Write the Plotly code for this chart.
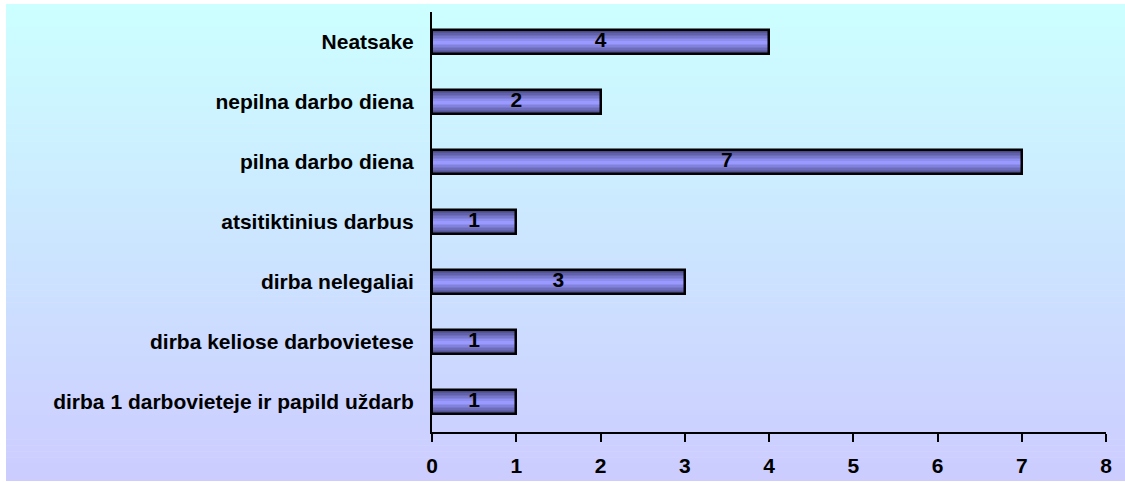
import plotly.graph_objects as go

categories = [
    "dirba 1 darbovieteje ir papild uždarb",
    "dirba keliose darbovietese",
    "dirba nelegaliai",
    "atsitiktinius darbus",
    "pilna darbo diena",
    "nepilna darbo diena",
    "Neatsake",
]
values = [1, 1, 3, 1, 7, 2, 4]
x_ticks = [0, 1, 2, 3, 4, 5, 6, 7, 8]

FONT = "Liberation Sans, Arial, sans-serif"
FS = 21

def lerp(c1, c2, t):
    return "#%02x%02x%02x" % tuple(int(round(a + (b - a) * t)) for a, b in zip(c1, c2))

fig = go.Figure()

# layered bars to mimic a vertical gradient inside each bar
dark = (0x4a, 0x4a, 0x88)
light = (0x99, 0x99, 0xff)
n_layers = 8
full_w = 0.4
for i in range(n_layers):
    t = i / (n_layers - 1)
    w = full_w * (1 - i / n_layers)
    fig.add_trace(go.Bar(
        x=values, y=categories, orientation="h", width=w,
        marker=dict(color=lerp(dark, light, t), line=dict(width=0)),
        hoverinfo="skip", showlegend=False,
    ))

# outline on top
fig.add_trace(go.Bar(
    x=values, y=categories, orientation="h", width=full_w,
    marker=dict(color="rgba(0,0,0,0)", line=dict(color="black", width=2.5)),
    showlegend=False,
))

# value labels centered in bars
fig.add_trace(go.Scatter(
    x=[v / 2 for v in values], y=categories, mode="text",
    text=[str(v) for v in values],
    textfont=dict(family=FONT, size=FS, color="black", weight="bold"),
    textposition="middle center", hoverinfo="skip", showlegend=False,
))

# gradient background via stacked strips (paper coords)
L, R, T, B = 432, 1106, 12, 432
W, H = R - L, B - T
def px_x(p):
    return (p - L) / W
def px_y(p):
    return (B - p) / H
top_c = (0xcc, 0xff, 0xff)
bot_c = (0xcc, 0xcc, 0xff)
y_top, y_bot = 4, 481
n_strips = 80
shapes = []
for i in range(n_strips):
    a = y_top + (y_bot - y_top) * i / n_strips
    b = y_top + (y_bot - y_top) * (i + 1) / n_strips + 0.6
    shapes.append(dict(
        type="rect", xref="paper", yref="paper", layer="below",
        x0=px_x(6), x1=px_x(1125), y0=px_y(min(b, y_bot)), y1=px_y(a),
        fillcolor=lerp(top_c, bot_c, i / (n_strips - 1)), line=dict(width=0),
    ))

fig.update_layout(
    width=1125, height=482,
    margin=dict(l=L, r=1125 - R, t=T, b=482 - B, pad=0, autoexpand=False),
    paper_bgcolor="white", plot_bgcolor="rgba(0,0,0,0)",
    barmode="overlay", bargap=0,
    shapes=shapes,
    font=dict(family=FONT, size=FS, color="black"),
    xaxis=dict(
        range=[0, 8], tickvals=x_ticks, ticktext=[str(t) for t in x_ticks],
        showgrid=False, zeroline=False, automargin=False,
        showline=True, linecolor="black", linewidth=2,
        ticks="outside", ticklen=8, tickwidth=2, tickcolor="black",
        tickfont=dict(family=FONT, size=FS, color="black", weight="bold"),
        ticklabelstandoff=6, fixedrange=True,
    ),
    yaxis=dict(
        categoryorder="array", categoryarray=categories,
        range=[-0.5, 6.5], automargin=False,
        showgrid=False, zeroline=False,
        showline=True, linecolor="black", linewidth=2,
        ticks="",
        tickfont=dict(family=FONT, size=FS, color="black", weight="bold"),
        ticklabelstandoff=12, fixedrange=True,
    ),
)

fig.write_html("out.html")
